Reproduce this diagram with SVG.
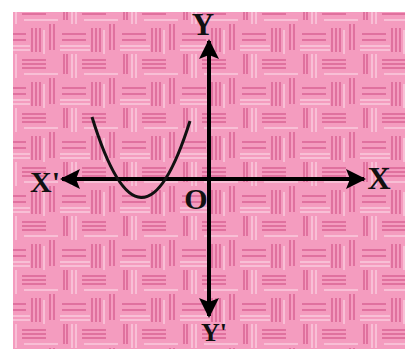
<svg xmlns="http://www.w3.org/2000/svg" width="405" height="349" viewBox="0 0 405 349">
<style>
.lbl{font-family:"Liberation Serif","Times New Roman",serif;font-weight:bold;fill:#111;}
.axis{stroke:#000;stroke-width:4;fill:none;}
.curve{stroke:#111;stroke-width:3;fill:none;}
</style>
<defs>
<pattern id="plaid" width="60" height="54" patternUnits="userSpaceOnUse">
<rect width="60" height="54" fill="#f49cbf"/>
<g stroke="#c83a76" stroke-width="1.2" opacity="0.75">
<line x1="4" y1="0" x2="4" y2="20"/><line x1="7" y1="0" x2="7" y2="20"/>
<line x1="22" y1="6" x2="46" y2="6"/><line x1="22" y1="10" x2="46" y2="10"/><line x1="22" y1="14" x2="46" y2="14"/>
<line x1="50" y1="24" x2="50" y2="50"/><line x1="54" y1="24" x2="54" y2="50"/>
<line x1="2" y1="34" x2="26" y2="34"/><line x1="2" y1="40" x2="26" y2="40"/>
<line x1="32" y1="28" x2="32" y2="52"/><line x1="36" y1="28" x2="36" y2="52"/><line x1="40" y1="28" x2="40" y2="52"/>
</g>
<g stroke="#ffffff" stroke-width="1" opacity="0.7">
<line x1="12" y1="0" x2="12" y2="24"/><line x1="16" y1="0" x2="16" y2="24"/>
<line x1="24" y1="20" x2="58" y2="20"/>
<line x1="0" y1="46" x2="30" y2="46"/><line x1="0" y1="50" x2="30" y2="50"/>
<line x1="44" y1="30" x2="44" y2="54"/>
</g>
</pattern>
<marker id="ah" viewBox="0 0 10 10" refX="9" refY="5" markerWidth="5.5" markerHeight="5" orient="auto-start-reverse" markerUnits="strokeWidth">
<path d="M0,0 L10,5 L0,10 L2,5 Z" fill="#000"/>
</marker>
</defs>
<rect x="0" y="0" width="405" height="349" fill="#ffffff"/>
<rect id="background" x="13" y="12" width="392" height="337" fill="url(#plaid)"/>
<g id="connectors">
<line class="axis" x1="62" y1="179" x2="364" y2="179" marker-start="url(#ah)" marker-end="url(#ah)"/>
<line class="axis" x1="209" y1="41" x2="209" y2="316" marker-start="url(#ah)" marker-end="url(#ah)"/>
</g>
<g id="parabola">
<path class="curve" d="M92,117 Q141,276 190,121"/>
</g>
<g id="label-Y"><text class="lbl" x="203" y="35" font-size="31" text-anchor="middle">Y</text></g>
<g id="label-Y-prime"><text class="lbl" x="214" y="341" font-size="26" text-anchor="middle">Y'</text></g>
<g id="label-X"><text class="lbl" x="379" y="189" font-size="32" text-anchor="middle">X</text></g>
<g id="label-X-prime"><text class="lbl" x="45" y="192" font-size="30" text-anchor="middle">X'</text></g>
<g id="label-O"><text class="lbl" x="196" y="209" font-size="30" text-anchor="middle">O</text></g>
</svg>
